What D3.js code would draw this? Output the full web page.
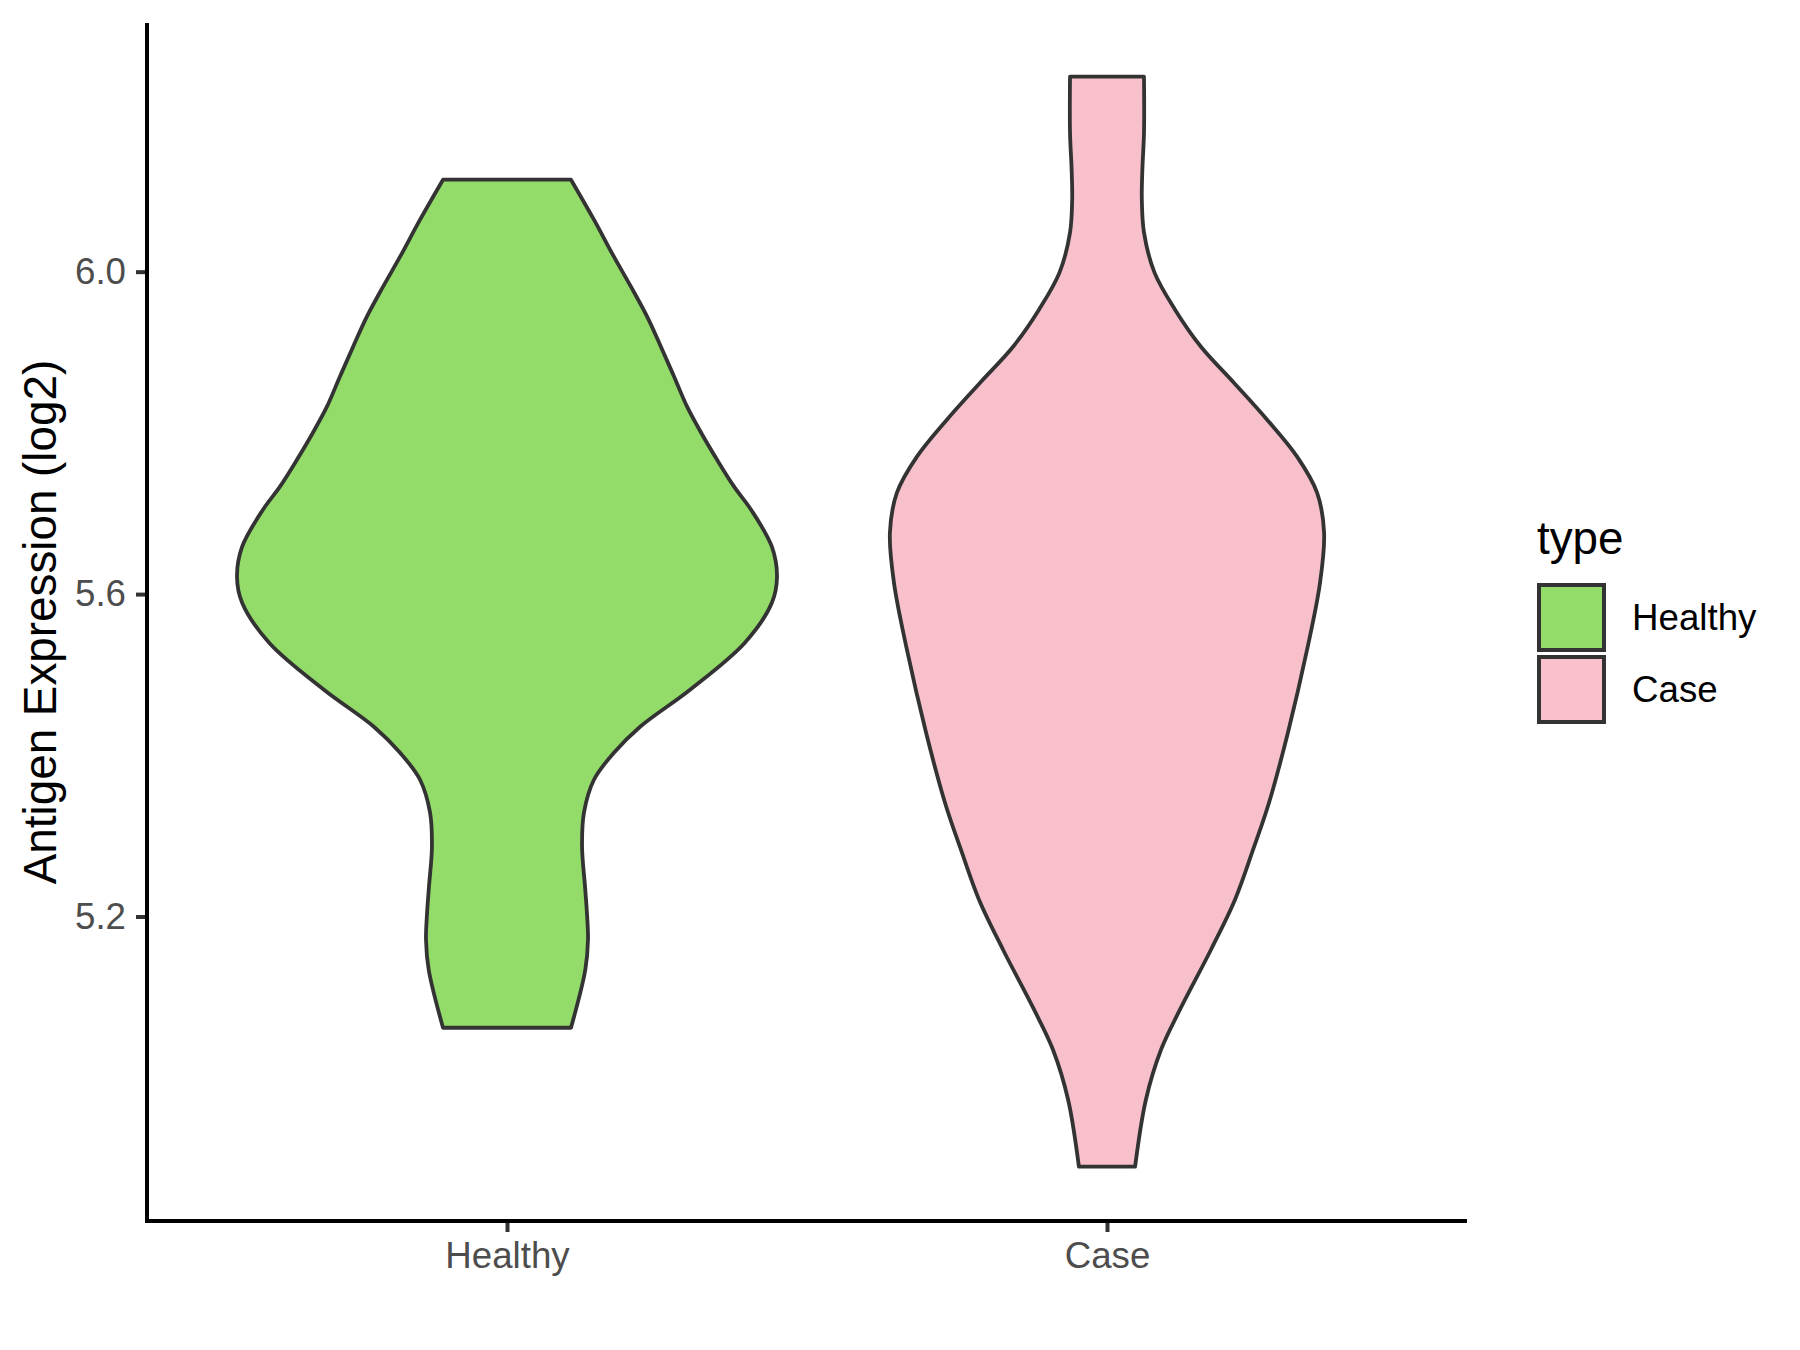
<!DOCTYPE html>
<html>
<head>
<meta charset="utf-8">
<script src="https://cdn.jsdelivr.net/npm/d3@7"></script>
<style>
  html, body { margin: 0; padding: 0; background: #ffffff; }
  svg { display: block; }
  text { font-family: "Liberation Sans", Arial, Helvetica, sans-serif; }
</style>
</head>
<body>
<script>
// ---- data ----
const categories = ["Healthy", "Case"];
const fillColors = ["#93DC6A", "#F8C0CB"];
const yTickValues = [5.2, 5.6, 6.0];
const yTitle = "Antigen Expression (log2)";
const legendTitle = "type";

// violin outlines: expression value and relative density
const healthyValues  = [6.1141, 6.0645, 6.0186, 5.9814, 5.9442, 5.9069, 5.8697, 5.8325, 5.8002, 5.7667, 5.7333, 5.7047, 5.6588, 5.6216, 5.5893, 5.5397, 5.4814, 5.4355, 5.4032, 5.3697, 5.3288, 5.2866, 5.2370, 5.2047, 5.1712, 5.1340, 5.0620];
const healthyDensity = [0.237, 0.322, 0.396, 0.459, 0.519, 0.570, 0.619, 0.667, 0.719, 0.778, 0.841, 0.904, 0.981, 1.000, 0.981, 0.881, 0.678, 0.493, 0.396, 0.322, 0.285, 0.278, 0.289, 0.296, 0.300, 0.290, 0.237];
const caseValues  = [6.2419, 6.1725, 6.1266, 6.0893, 6.0484, 5.9988, 5.9529, 5.9069, 5.8623, 5.8164, 5.7705, 5.7258, 5.6762, 5.6141, 5.5310, 5.4280, 5.3412, 5.2829, 5.2208, 5.1588, 5.0844, 5.0347, 4.9727, 4.8896];
const caseDensity = [0.137, 0.137, 0.131, 0.129, 0.137, 0.176, 0.252, 0.348, 0.470, 0.593, 0.704, 0.778, 0.804, 0.789, 0.741, 0.670, 0.600, 0.541, 0.474, 0.385, 0.270, 0.200, 0.144, 0.104];

const W = 1800, H = 1350;
const plot = { left: 147, right: 1467, top: 23, bottom: 1221 };

const svg = d3.select("body").append("svg").attr("width", W).attr("height", H);

const yScale = d3.scaleLinear().domain([4.8235, 6.3085]).range([plot.bottom - 1, plot.top]);
const xScale = d3.scalePoint().domain(categories).range([plot.left, plot.right]).padding(0.6);
const wScale = d3.scaleLinear().domain([0, 1]).range([0, xScale.step() * 0.45]);

const groups = [
  { name: "Healthy", values: healthyValues, density: healthyDensity, color: fillColors[0] },
  { name: "Case", values: caseValues, density: caseDensity, color: fillColors[1] }
];

groups.forEach(g => {
  const pts = g.values.map((v, i) => ({ v, d: g.density[i] }));
  const cx = xScale(g.name);
  const area = d3.area()
    .y(p => yScale(p.v))
    .x0(p => cx - wScale(p.d))
    .x1(p => cx + wScale(p.d))
    .curve(d3.curveCatmullRom.alpha(0.5));
  svg.append("path")
    .attr("d", area(pts))
    .attr("fill", g.color)
    .attr("stroke", "#333333")
    .attr("stroke-width", 3.8)
    .attr("stroke-linejoin", "round");
});

// axes
const yAxis = d3.axisLeft(yScale).tickValues(yTickValues).tickFormat(d3.format(".1f")).tickSize(11).tickPadding(10);
const gy = svg.append("g").attr("transform", `translate(${plot.left},0)`).call(yAxis);
gy.select(".domain").remove();
gy.selectAll(".tick line").attr("stroke", "#333333").attr("stroke-width", 4);
gy.selectAll(".tick text").attr("fill", "#4D4D4D").style("font-size", "36.7px")
  .style("font-family", '"Liberation Sans", Arial, sans-serif');

const xAxis = d3.axisBottom(xScale).tickSize(11).tickPadding(10);
const gx = svg.append("g").attr("transform", `translate(0,${plot.bottom})`).call(xAxis);
gx.select(".domain").remove();
gx.selectAll(".tick line").attr("stroke", "#333333").attr("stroke-width", 4);
gx.selectAll(".tick text").attr("fill", "#4D4D4D").style("font-size", "36.7px")
  .style("font-family", '"Liberation Sans", Arial, sans-serif');

// axis lines
svg.append("line").attr("x1", plot.left).attr("x2", plot.left).attr("y1", plot.top).attr("y2", plot.bottom + 2)
  .attr("stroke", "#000000").attr("stroke-width", 4);
svg.append("line").attr("x1", plot.left - 2).attr("x2", plot.right).attr("y1", plot.bottom).attr("y2", plot.bottom)
  .attr("stroke", "#000000").attr("stroke-width", 4);

// y title
svg.append("text")
  .attr("transform", `translate(56,${(plot.top + plot.bottom) / 2}) rotate(-90)`)
  .attr("text-anchor", "middle")
  .attr("fill", "#000000")
  .style("font-size", "45.8px")
  .text(yTitle);

// legend
const leg = svg.append("g");
leg.append("text").attr("x", 1537).attr("y", 554).attr("fill", "#000").style("font-size", "45.8px").text(legendTitle);
const keySize = 69;
groups.forEach((g, i) => {
  const ky = 583 + i * 72;
  leg.append("rect").attr("x", 1539).attr("y", ky + 2).attr("width", keySize - 4).attr("height", keySize - 4)
    .attr("fill", g.color).attr("stroke", "#333333").attr("stroke-width", 4);
  leg.append("text").attr("x", 1632).attr("y", ky + keySize / 2).attr("dy", "0.35em")
    .attr("fill", "#000").style("font-size", "36.7px").text(g.name);
});
</script>
</body>
</html>
